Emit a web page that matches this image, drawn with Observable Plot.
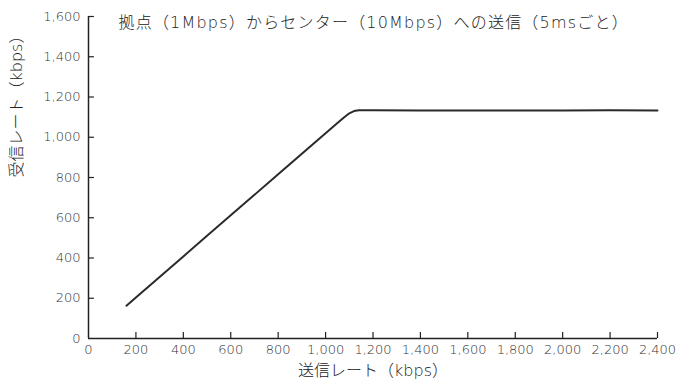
<!DOCTYPE html>
<html>
<head>
<meta charset="utf-8">
<script src="https://cdn.jsdelivr.net/npm/d3@7"></script>
<script src="https://cdn.jsdelivr.net/npm/@observablehq/plot@0.6"></script>
<style>
  html, body { margin: 0; padding: 0; background: #fff; }
  #chart svg { display: block; }
</style>
</head>
<body>
<div id="chart"></div>
<script>
const titleText = "拠点（1Mbps）からセンター（10Mbps）への送信（5msごと）";
const xLabel = "送信レート（kbps）";
const yLabel = "受信レート（kbps）";

const sendRate = [160, 200, 300, 400, 500, 600, 700, 800, 900, 1000, 1050, 1080, 1100, 1120, 1140, 1200, 1400, 1600, 1800, 2000, 2200, 2400];
const recvRate = [163, 204, 306, 408, 510, 612, 714, 816, 918, 1020, 1071, 1101, 1119, 1130, 1134, 1134, 1133, 1133, 1133, 1133, 1134, 1133];

const xTicks = [0, 200, 400, 600, 800, 1000, 1200, 1400, 1600, 1800, 2000, 2200, 2400];
const yTicks = [0, 200, 400, 600, 800, 1000, 1200, 1400, 1600];

const data = sendRate.map((x, i) => ({x, y: recvRate[i]}));
const font = "'DejaVu Sans', 'Noto Sans CJK JP', sans-serif";

const chart = Plot.plot({
  width: 679,
  height: 389,
  marginLeft: 88,
  marginRight: 22,
  marginTop: 16,
  marginBottom: 51,
  style: {fontFamily: font, background: "#fff", fontWeight: 300},
  x: {domain: [0, 2400]},
  y: {domain: [0, 1600]},
  marks: [
    Plot.axisX(xTicks, {tickSize: 0, tickPadding: 6, tickFormat: d3.format(","), fontSize: 13, fill: "#333", label: null}),
    Plot.axisY(yTicks, {tickSize: 0, tickPadding: 8, tickFormat: d3.format(","), fontSize: 13, fill: "#333", label: null}),
    Plot.ruleX(xTicks.slice(1), {x: d => d, y1: 0, y2: 30, stroke: "#222", strokeWidth: 1.2}),
    Plot.ruleY(yTicks.slice(1), {y: d => d, x1: 0, x2: 25, stroke: "#222", strokeWidth: 1.2}),
    Plot.ruleX([0], {stroke: "#222", strokeWidth: 1.5}),
    Plot.ruleY([0], {stroke: "#222", strokeWidth: 1.5}),
    Plot.line(data, {x: "x", y: "y", stroke: "#2a2a2a", strokeWidth: 2}),
    Plot.text([titleText], {frameAnchor: "top-left", dx: 30, dy: 0, lineAnchor: "top", textAnchor: "start", fontSize: 16, fontWeight: 300, fill: "#222"}),
    Plot.text([xLabel], {frameAnchor: "bottom", dy: 32, lineAnchor: "middle", fontSize: 16, fontWeight: 300, fill: "#222"}),
    Plot.text([yLabel], {frameAnchor: "left", dx: -72, rotate: -90, lineAnchor: "middle", fontSize: 16, fontWeight: 300, fill: "#222"})
  ]
});
d3.select(chart).selectAll("text").filter(function() { return this.textContent === titleText; })
  .style("letter-spacing", "1.2px");
document.getElementById("chart").appendChild(chart);
</script>
</body>
</html>
